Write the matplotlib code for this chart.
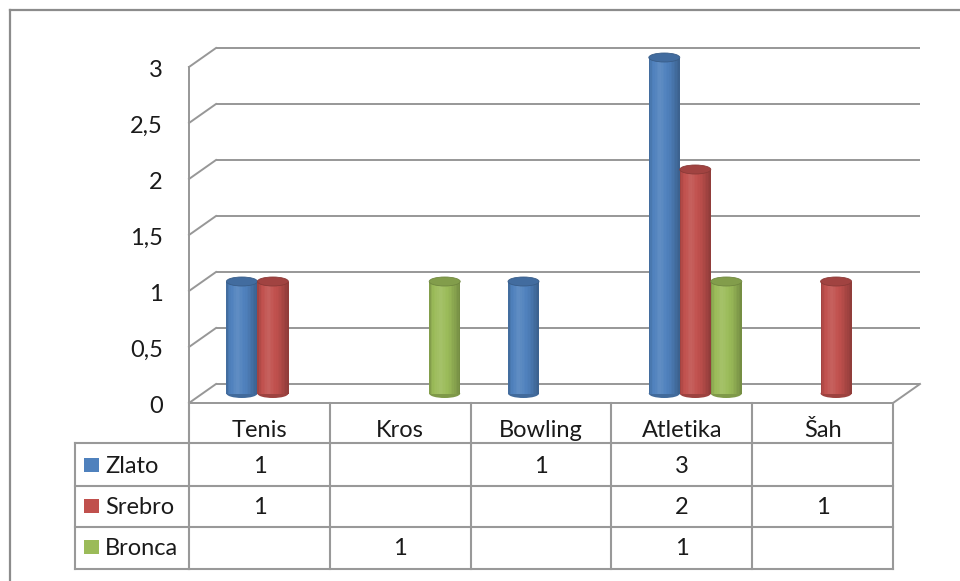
import numpy as np
import matplotlib.pyplot as plt
from matplotlib import transforms
from matplotlib.patches import Ellipse, Rectangle
from matplotlib.colors import to_rgb

plt.rcParams['font.family'] = ['Lato', 'DejaVu Sans']

# podaci
categories = ['Tenis', 'Kros', 'Bowling', 'Atletika', 'Šah']
series = ['Zlato', 'Srebro', 'Bronca']
zlato = [1, 0, 1, 3, 0]
srebro = [1, 0, 0, 2, 1]
bronca = [0, 1, 0, 1, 0]
values = [zlato, srebro, bronca]
colors = ['#4F81BD', '#C0504D', '#9BBB59']
yticks = [0, 0.5, 1, 1.5, 2, 2.5, 3]
ytick_labels = ['0', '0,5', '1', '1,5', '2', '2,5', '3']

W, H = 960, 581
grid_c = '#979797'
fs = 17


def shade(c, f):
    c = np.array(to_rgb(c))
    if f > 1:
        return tuple(c + (1 - c) * (f - 1))
    return tuple(c * f)


fig = plt.figure(figsize=(W / 100, H / 100), dpi=100)
pix = fig.add_axes([0, 0, 1, 1])
pix.set_xlim(0, W)
pix.set_ylim(H, 0)
pix.axis('off')

ax = fig.add_axes([189 / W, (H - 403) / H, (893 - 189) / W, (403 - 67) / H])
ax.axis('off')

# dubina 3D prikaza u jedinicama podataka
px_x = (893 - 189) / 5.0
px_y = (403 - 67) / 3.0
DX = 27 / px_x
DY = 19 / px_y
bw = 31 / px_x
cap = 9 / px_y

# zidovi i mreza
for v in yticks:
    ax.plot([-0.5 + DX, 4.5 + DX], [v + DY, v + DY], color=grid_c, lw=1.4,
            clip_on=False, zorder=1, solid_capstyle='butt')
    ax.plot([-0.5, -0.5 + DX], [v, v + DY], color=grid_c, lw=1.4,
            clip_on=False, zorder=1)
ax.plot([-0.5, -0.5], [0, 3], color=grid_c, lw=1.4, clip_on=False, zorder=1)
ax.plot([4.5, 4.5 + DX], [0, DY], color=grid_c, lw=1.4, clip_on=False, zorder=1)
ax.plot([-0.5, 4.5], [0, 0], color=grid_c, lw=1.4, clip_on=False, zorder=1)

# oznake y osi
lab_tr = transforms.offset_copy(ax.transData, fig=fig, x=-26, y=-10, units='dots')
for v, t in zip(yticks, ytick_labels):
    ax.text(-0.5, v, t, transform=lab_tr, ha='right', va='baseline',
            fontsize=fs, color='#1a1a1a')

# valjci
prof_t = [0, 0.1, 0.35, 0.7, 1]
prof_f = [0.8, 0.97, 1.1, 0.95, 0.74]
n = 20
base = DY / 2
for i in range(len(categories)):
    for s in range(len(series)):
        v = values[s][i]
        if v <= 0:
            continue
        c = colors[s]
        xc = i + DX / 2 + (s - 1) * bw
        left = xc - bw / 2
        z = 3 + i
        ax.add_patch(Ellipse((xc, base), bw, cap, facecolor=shade(c, 0.82),
                             edgecolor='none', clip_on=False, zorder=z))
        ts = (np.arange(n) + 0.5) / n
        for k, t in enumerate(ts):
            f = np.interp(t, prof_t, prof_f)
            ax.bar(left + k * bw / n, v, width=bw / n * 1.08, bottom=base,
                   align='edge', color=shade(c, f), lw=0, clip_on=False,
                   zorder=z + 0.1)
        ax.add_patch(Ellipse((xc, base + v), bw, cap, facecolor=shade(c, 0.84),
                             edgecolor=shade(c, 0.72), lw=0.6, clip_on=False,
                             zorder=z + 0.2))

ax.set_xlim(-0.5, 4.5)
ax.set_ylim(0, 3)

# tablica podataka
bl = transforms.blended_transform_factory(ax.transData, pix.transData)
row_tops = [443, 486, 527, 569]
baselines = [473, 514, 555]
tab_c = '#999999'

for i in range(len(categories) + 1):
    ax.plot([i - 0.5, i - 0.5], [403, 569], transform=bl, color=tab_c, lw=1.5,
            clip_on=False)
for y in row_tops:
    ax.plot([-0.5, 4.5], [y, y], transform=bl, color=tab_c, lw=1.5,
            clip_on=False, solid_capstyle='projecting')
    pix.plot([75, 189], [y, y], color=tab_c, lw=1.5, solid_capstyle='projecting')
pix.plot([75, 75], [443, 569], color=tab_c, lw=1.5)

for i, cat in enumerate(categories):
    ax.text(i, 437, cat, transform=bl, ha='center', va='baseline',
            fontsize=fs, color='#1a1a1a')

for s, name in enumerate(series):
    b = baselines[s]
    pix.add_patch(Rectangle((84, b - 15), 15, 14, facecolor=colors[s],
                            edgecolor='none'))
    pix.text(105, b, name, ha='left', va='baseline', fontsize=fs,
             color='#1a1a1a')
    for i in range(len(categories)):
        v = values[s][i]
        if v > 0:
            ax.text(i, b, str(v), transform=bl, ha='center', va='baseline',
                    fontsize=fs, color='#1a1a1a')

# okvir
pix.plot([10, 10], [10, H], color='#8c8c8c', lw=1.6)
pix.plot([10, W], [10, 10], color='#8c8c8c', lw=1.6)

fig.savefig('out.png', dpi=100)
